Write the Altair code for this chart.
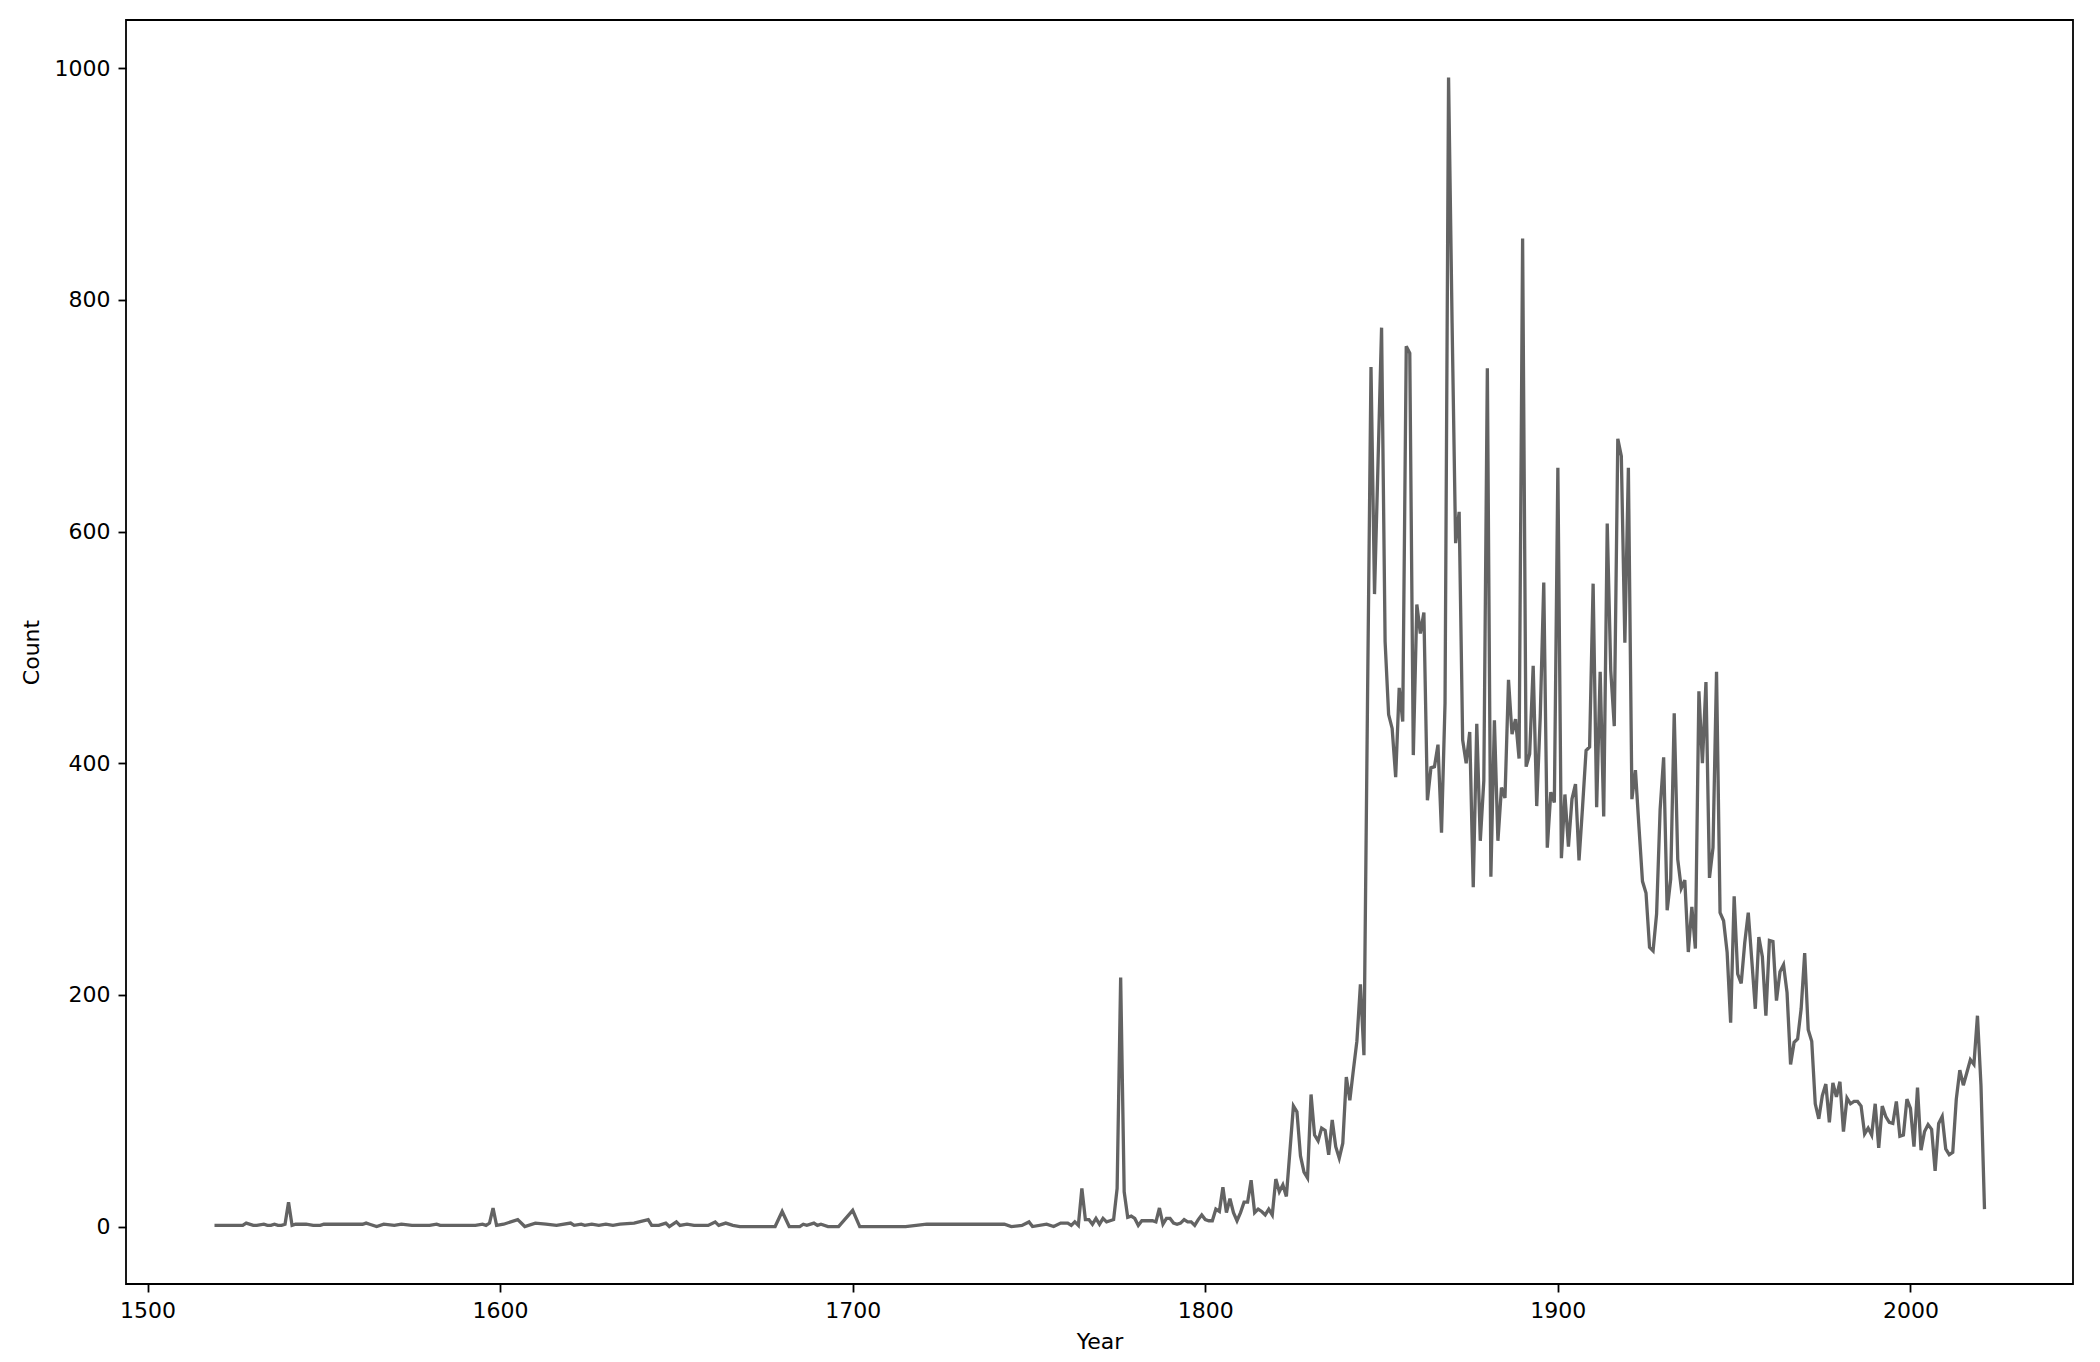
import altair as alt
import pandas as pd

# Sparse early years (1519-1800)
early_years = [1519, 1527, 1528, 1530, 1531, 1533, 1534, 1535, 1536, 1537, 1538, 1539, 1540, 1541,
               1542, 1545, 1547, 1549, 1550, 1561, 1562, 1563, 1565, 1567, 1570, 1572, 1575, 1580,
               1582, 1583, 1593, 1595, 1596, 1597, 1598, 1599, 1601, 1605, 1607, 1610, 1613, 1616,
               1620, 1621, 1623, 1624, 1626, 1628, 1630, 1632, 1634, 1638, 1642, 1643, 1645, 1647,
               1648, 1650, 1651, 1653, 1655, 1659, 1661, 1662, 1664, 1666, 1668, 1678, 1680, 1682,
               1685, 1686, 1687, 1689, 1690, 1691, 1693, 1696, 1700, 1702, 1715, 1721, 1743, 1745,
               1748, 1750, 1751, 1755, 1757, 1759, 1761, 1762, 1763, 1764, 1765, 1766, 1767, 1768,
               1769, 1770, 1771, 1772, 1773, 1774, 1775, 1776, 1777, 1778, 1779, 1780, 1781, 1782,
               1785, 1786, 1787, 1788, 1789, 1790, 1791, 1792, 1793, 1794, 1795, 1796, 1797, 1798,
               1799, 1800]
early_counts = [1, 1, 3, 1, 1, 2, 1, 1, 2, 1, 1, 2, 21, 1,
                2, 2, 1, 1, 2, 2, 3, 2, 0, 2, 1, 2, 1, 1,
                2, 1, 1, 2, 1, 3, 16, 1, 2, 6, 0, 3, 2, 1,
                3, 1, 2, 1, 2, 1, 2, 1, 2, 3, 6, 1, 1, 3,
                0, 4, 1, 2, 1, 1, 4, 1, 3, 1, 0, 0, 13, 0,
                0, 2, 1, 3, 1, 2, 0, 0, 14, 0, 0, 2, 2, 0,
                1, 4, 0, 2, 0, 3, 3, 1, 4, 1, 33, 6, 6, 2,
                7, 2, 7, 4, 5, 6, 33, 215, 30, 8, 9, 7, 1, 5,
                5, 4, 16, 2, 7, 7, 3, 2, 3, 6, 4, 4, 1, 6,
                10, 6]

# Yearly values from 1801 to 2021
main_start = 1801
main_counts = [
    5, 5, 15, 13, 34, 12, 24, 12, 5, 12,            # 1801-1810
    21, 21, 40, 12, 15, 13, 10, 15, 10, 41,         # 1811-1820
    30, 36, 26, 65, 104, 99, 61, 47, 42, 114,       # 1821-1830
    79, 74, 85, 83, 62, 92, 69, 59, 72, 129,        # 1831-1840
    109, 135, 160, 209, 148, 450, 742, 546, 660, 776,  # 1841-1850
    505, 442, 430, 388, 465, 436, 760, 754, 407, 537,  # 1851-1860
    512, 530, 368, 396, 397, 416, 340, 452, 992, 780,  # 1861-1870
    590, 617, 420, 400, 427, 293, 434, 333, 385, 741,  # 1871-1880
    302, 437, 333, 379, 370, 472, 425, 438, 404, 853,  # 1881-1890
    397, 408, 484, 363, 440, 556, 327, 375, 366, 655,  # 1891-1900
    318, 373, 328, 369, 382, 316, 362, 411, 414, 555,  # 1901-1910
    362, 479, 354, 607, 480, 432, 680, 665, 504, 655,  # 1911-1920
    369, 394, 345, 298, 288, 241, 238, 270, 360, 405,  # 1921-1930
    273, 300, 443, 317, 292, 299, 237, 276, 240, 462,  # 1931-1940
    400, 470, 301, 327, 479, 271, 264, 237, 176, 285,  # 1941-1950
    218, 210, 245, 271, 230, 188, 250, 233, 182, 247,  # 1951-1960
    246, 195, 220, 226, 202, 140, 159, 162, 188, 236,  # 1961-1970
    170, 160, 106, 93, 113, 123, 90, 124, 112, 125,    # 1971-1980
    82, 111, 106, 108, 108, 104, 80, 85, 79, 106,      # 1981-1990
    68, 104, 95, 90, 89, 108, 78, 79, 110, 102,        # 1991-2000
    69, 120, 66, 82, 88, 84, 48, 89, 95, 67,           # 2001-2010
    62, 64, 110, 135, 122, 133, 144, 140, 182, 122,    # 2011-2020
    15,                                                # 2021
]

x_ticks = [1500, 1600, 1700, 1800, 1900, 2000]
y_ticks = [0, 200, 400, 600, 800, 1000]

years = early_years + list(range(main_start, main_start + len(main_counts)))
counts = early_counts + main_counts
df = pd.DataFrame({"Year": years, "Count": counts})

W, H = 1947, 1264
FONT = "DejaVu Sans"

chart = alt.Chart(df).mark_line(color="#636363", strokeWidth=3.3).encode(
    x=alt.X(
        "Year:Q",
        scale=alt.Scale(domain=[1493.9, 2046.1], nice=False, zero=False),
        axis=alt.Axis(
            values=x_ticks, format="d", title="Year",
            labelPadding=8, titleX=W / 2, titleY=64,
            titleAlign="center", titleBaseline="alphabetic",
        ),
    ),
    y=alt.Y(
        "Count:Q",
        scale=alt.Scale(domain=[-49.6, 1041.6], nice=False, zero=False),
        axis=alt.Axis(
            values=y_ticks, format="d", title="Count",
            labelPadding=8, titleX=-88, titleY=H / 2, titleAngle=270,
            titleAlign="center", titleBaseline="alphabetic",
        ),
    ),
).properties(
    width=W,
    height=H,
    autosize=alt.AutoSizeParams(type="none"),
    padding={"left": 118, "top": 12, "right": 10, "bottom": 76},
    background="white",
).configure_view(
    stroke="black", strokeWidth=1.8
).configure_axis(
    grid=False, domain=False,
    tickColor="black", tickWidth=1.8, tickSize=8,
    labelFont=FONT, labelFontSize=22, labelColor="black",
    titleFont=FONT, titleFontSize=22, titleFontWeight="normal", titleColor="black",
)

chart.save("out.html", embed_options={"renderer": "svg", "actions": False})
